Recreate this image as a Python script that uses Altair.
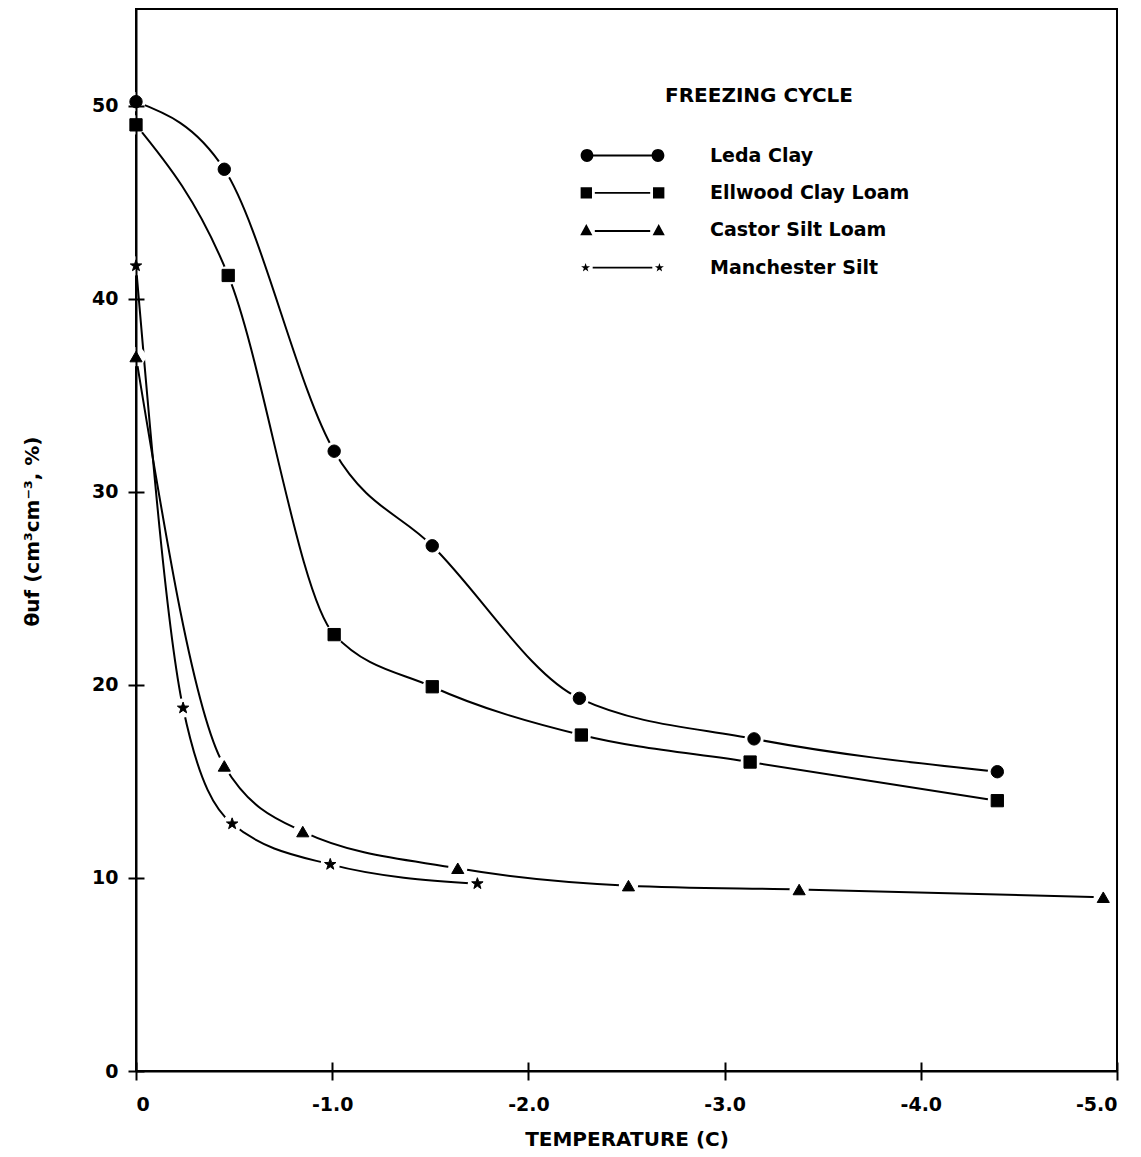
import altair as alt
import pandas as pd

series_names = ["Leda Clay", "Ellwood Clay Loam", "Castor Silt Loam", "Manchester Silt"]

leda_t = [0.0, -0.45, -1.01, -1.51, -2.26, -3.15, -4.39]
leda_w = [50.2, 46.7, 32.1, 27.2, 19.3, 17.2, 15.5]
ellwood_t = [0.0, -0.47, -1.01, -1.51, -2.27, -3.13, -4.39]
ellwood_w = [49.0, 41.2, 22.6, 19.9, 17.4, 16.0, 14.0]
castor_t = [0.0, -0.45, -0.85, -1.64, -2.51, -3.38, -4.93]
castor_w = [37.0, 15.8, 12.4, 10.5, 9.6, 9.4, 9.0]
manch_t = [0.0, -0.24, -0.49, -0.99, -1.74]
manch_w = [41.7, 18.8, 12.8, 10.7, 9.7]

x_ticks = [0, -1, -2, -3, -4, -5]
y_ticks = [0, 10, 20, 30, 40, 50]

rows = []
for name, ts, ws in zip(series_names,
                        [leda_t, ellwood_t, castor_t, manch_t],
                        [leda_w, ellwood_w, castor_w, manch_w]):
    for i, (t, w) in enumerate(zip(ts, ws)):
        rows.append({"series": name, "legend_series": name, "temp": t, "water": w, "idx": i})
df = pd.DataFrame(rows)

# star outline (unit radius)
star_pts = [(0, -1), (0.235, -0.324), (0.951, -0.309), (0.380, 0.124), (0.588, 0.809),
            (0, 0.4), (-0.588, 0.809), (-0.380, 0.124), (-0.951, -0.309), (-0.235, -0.324)]


def star_path(cx, s):
    return "M" + "L".join(f"{cx + px * s:.3f},{py * s:.3f}" for px, py in star_pts) + "Z"


def bar(x0, x1, y=0.0, h=0.065):
    return f"M{x0},{y - h}L{x1},{y - h}L{x1},{y + h}L{x0},{y + h}Z"


STAR = star_path(0, 1)

leg_circle = (bar(-2.5, 2.5)
              + "M-2.05,0A0.45,0.45,0,1,1,-2.95,0A0.45,0.45,0,1,1,-2.05,0Z"
              + "M2.95,0A0.45,0.45,0,1,1,2.05,0A0.45,0.45,0,1,1,2.95,0Z")
leg_square = ("M-2.95,-0.4L-2.15,-0.4L-2.15,0.4L-2.95,0.4Z"
              "M2.15,-0.4L2.95,-0.4L2.95,0.4L2.15,0.4Z"
              + bar(-1.95, 1.95))
leg_tri = ("M-2.55,-0.45L-2.12,0.35L-2.98,0.35Z"
           "M2.55,-0.45L2.98,0.35L2.12,0.35Z"
           + bar(-1.95, 1.95, 0.05))
leg_star = star_path(-2.6, 0.33) + star_path(2.6, 0.33) + bar(-2.1, 2.1)

FONT = "DejaVu Sans"

X_SCALE = alt.Scale(domain=[0, -5], nice=False, zero=False)
Y_SCALE = alt.Scale(domain=[0, 55], nice=False)

x_main = alt.X("temp:Q", scale=X_SCALE,
               axis=alt.Axis(values=x_ticks, title="TEMPERATURE (C)", orient="bottom",
                             labelExpr="datum.value == 0 ? '0' : '-' + format(-datum.value, '.1f')",
                             tickSize=9, labelPadding=15, titleY=68, titleBaseline="middle",
                             grid=False, zindex=1))
y_main = alt.Y("water:Q", scale=Y_SCALE,
               axis=alt.Axis(values=y_ticks, title="θuf (cm³cm⁻³, %)", orient="left",
                             tickSize=8, labelPadding=10, titleX=-104, titleY=522,
                             titleAlign="center", titleBaseline="middle",
                             grid=False, zindex=1))
x_plain = alt.X("temp:Q", scale=X_SCALE, axis=None)
y_plain = alt.Y("water:Q", scale=Y_SCALE, axis=None)

# inner halves of the tick marks (ticks cross the axis lines)
x_inner = alt.X("temp:Q", scale=X_SCALE,
                axis=alt.Axis(values=x_ticks, orient="bottom", offset=-9, tickSize=9,
                              labels=False, domain=False, title=None, grid=False, zindex=1))
y_inner = alt.Y("water:Q", scale=Y_SCALE,
                axis=alt.Axis(values=y_ticks, orient="left", offset=-8, tickSize=8,
                              labels=False, domain=False, title=None, grid=False, zindex=1))

base = alt.Chart(df)

lines = base.mark_line(interpolate="monotone", color="black", strokeWidth=2).encode(
    x=x_main, y=y_main,
    detail="series:N",
    order=alt.Order("idx:Q"),
)

inner_ticks = base.mark_point(opacity=0).encode(x=x_inner, y=y_inner)

halos = base.mark_point(filled=True, shape="circle", size=300, fill="white",
                        stroke="white", opacity=1).encode(x=x_plain, y=y_plain)

markers = base.mark_point(filled=True, fill="black", stroke="black",
                          strokeWidth=1, opacity=1).encode(
    x=x_plain, y=y_plain,
    shape=alt.Shape("series:N",
                    scale=alt.Scale(domain=series_names,
                                    range=["circle", "square", "triangle-up", STAR]),
                    legend=None),
    size=alt.Size("series:N",
                  scale=alt.Scale(domain=series_names, range=[154, 144, 170, 115]),
                  legend=None),
)

legend_layer = base.mark_point(filled=True, fill="black", stroke="black",
                               strokeWidth=1, opacity=0).encode(
    x=x_plain, y=y_plain,
    shape=alt.Shape("legend_series:N",
                    scale=alt.Scale(domain=series_names,
                                    range=[leg_circle, leg_square, leg_tri, leg_star]),
                    legend=alt.Legend(title="FREEZING CYCLE", orient="none",
                                      legendX=472, legendY=77,
                                      titleAnchor="middle", titleFontSize=20,
                                      titleFont=FONT, titleFontWeight="bold",
                                      titlePadding=35, titleColor="black",
                                      titleLimit=500,
                                      labelFont=FONT, labelFontSize=19,
                                      labelFontWeight="bold", labelColor="black",
                                      labelOffset=73, labelLimit=400,
                                      symbolSize=806, symbolOpacity=1,
                                      symbolFillColor="black", symbolStrokeColor="black",
                                      symbolStrokeWidth=0.5, rowPadding=12.4,
                                      padding=0)),
)

chart = alt.layer(lines, inner_ticks, halos, markers, legend_layer).resolve_scale(
    shape="independent", size="independent"
).resolve_axis(
    x="independent", y="independent"
).properties(
    width=981, height=1062,
    autosize=alt.AutoSizeParams(type="none"),
    padding={"left": 136, "top": 9, "right": 24, "bottom": 86},
    background="white",
).configure_view(
    stroke="black", strokeWidth=2
).configure_axis(
    domainColor="black", domainWidth=2, tickColor="black", tickWidth=2,
    labelColor="black", titleColor="black",
    labelFont=FONT, titleFont=FONT, labelFontSize=19, titleFontSize=20,
    labelFontWeight="bold", titleFontWeight="bold",
)

chart.save("out.html", embed_options={"renderer": "svg", "actions": False})
